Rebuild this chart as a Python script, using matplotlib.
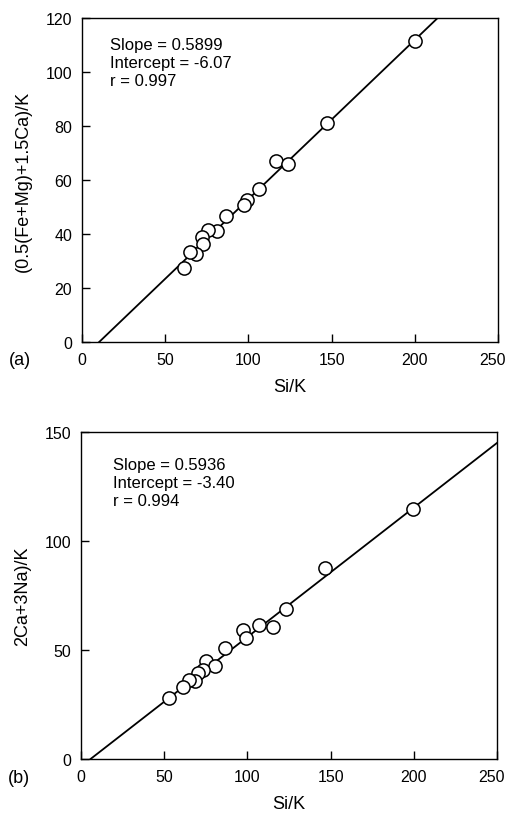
#!/usr/bin/env python3
# Si/K 대비 두 원소비 산점도와 회귀선 (a), (b) 패널을 그린다.

import matplotlib

matplotlib.use("Agg")
import matplotlib.pyplot as plt
from matplotlib.transforms import ScaledTranslation

plt.rcParams["font.family"] = ["Liberation Sans", "DejaVu Sans"]
FS_TICK, FS_LABEL, FS_NOTE = 11.5, 13, 12

# (a) (0.5(Fe+Mg)+1.5Ca)/K vs Si/K
si_k_a = [200.3, 147.4, 116.8, 123.6, 106.2, 99.4, 97.5, 86.5, 80.9, 75.9, 71.9, 72.7, 68.5, 65.1, 61.5]
fe_mg_ca_k = [111.4, 81.0, 67.2, 66.0, 56.7, 52.6, 50.7, 46.5, 41.2, 41.5, 39.0, 36.3, 32.6, 33.2, 27.4]
slope_a, intercept_a, r_a = 0.5899, -6.07, 0.997

# (b) (2Ca+3Na)/K vs Si/K
si_k_b = [199.7, 146.6, 123.0, 115.2, 106.8, 97.4, 99.0, 86.5, 74.9, 80.7, 73.1, 70.5, 68.5, 64.7, 61.5, 53.1]
ca_na_k = [114.8, 87.5, 68.8, 60.7, 61.3, 59.0, 55.4, 50.9, 44.8, 42.7, 40.8, 39.3, 35.9, 36.4, 33.2, 28.0]
slope_b, intercept_b, r_b = 0.5936, -3.40, 0.994

x_ticks = [0, 50, 100, 150, 200, 250]

PANELS = [
    {
        "rect": [0.1611, 0.5857, 0.8173, 0.3913],
        "x": si_k_a, "y": fe_mg_ca_k,
        "fit": (slope_a, intercept_a, r_a),
        "ylim": (0, 120), "yticks": [0, 20, 40, 60, 80, 100, 120],
        "ylabel": "(0.5(Fe+Mg)+1.5Ca)/K",
        "tag": "(a)", "text_xy": (0.067, 0.94),
    },
    {
        "rect": [0.1591, 0.0821, 0.8173, 0.3949],
        "x": si_k_b, "y": ca_na_k,
        "fit": (slope_b, intercept_b, r_b),
        "ylim": (0, 150), "yticks": [0, 50, 100, 150],
        "ylabel": "2Ca+3Na)/K",
        "tag": "(b)", "text_xy": (0.077, 0.925),
    },
]

fig = plt.figure(figsize=(5.09, 8.28), dpi=100)

for p in PANELS:
    ax = fig.add_axes(p["rect"])
    slope, intercept, r = p["fit"]

    # 회귀선은 y=0 지점부터 x=250까지, 축 밖은 잘린다.
    x0 = -intercept / slope
    ax.plot([x0, 250], [0, slope * 250 + intercept], color="black", linewidth=1.3, zorder=2)
    ax.plot(p["x"], p["y"], linestyle="none", marker="o", markersize=9.5,
            markerfacecolor="white", markeredgecolor="black", markeredgewidth=1.1,
            zorder=3, clip_on=False)

    ax.set_xlim(0, 250)
    ax.set_ylim(*p["ylim"])
    ax.set_xticks(x_ticks)
    ax.set_yticks(p["yticks"])
    ax.tick_params(direction="in", length=6, width=1, labelsize=FS_TICK, pad=7,
                   top=False, right=False)
    for s in ax.spines.values():
        s.set_linewidth(1.0)

    # 오른쪽 끝 "250"이 그림 밖으로 나가지 않게 조금 왼쪽으로 민다.
    last = ax.get_xticklabels()[-1]
    last.set_transform(last.get_transform() + ScaledTranslation(-4 / 72, 0, fig.dpi_scale_trans))

    ax.set_xlabel("Si/K", fontsize=FS_LABEL, labelpad=8)
    ax.set_ylabel(p["ylabel"], fontsize=FS_LABEL, labelpad=10)

    ax.text(p["text_xy"][0], p["text_xy"][1],
            f"Slope = {slope:.4f}\nIntercept = {intercept:.2f}\nr = {r:.3f}",
            transform=ax.transAxes, ha="left", va="top", fontsize=FS_NOTE, linespacing=1.25)
    ax.text(-0.175, -0.055, p["tag"], transform=ax.transAxes, ha="left", va="center",
            fontsize=FS_LABEL)

fig.savefig("out.png", dpi=100)
